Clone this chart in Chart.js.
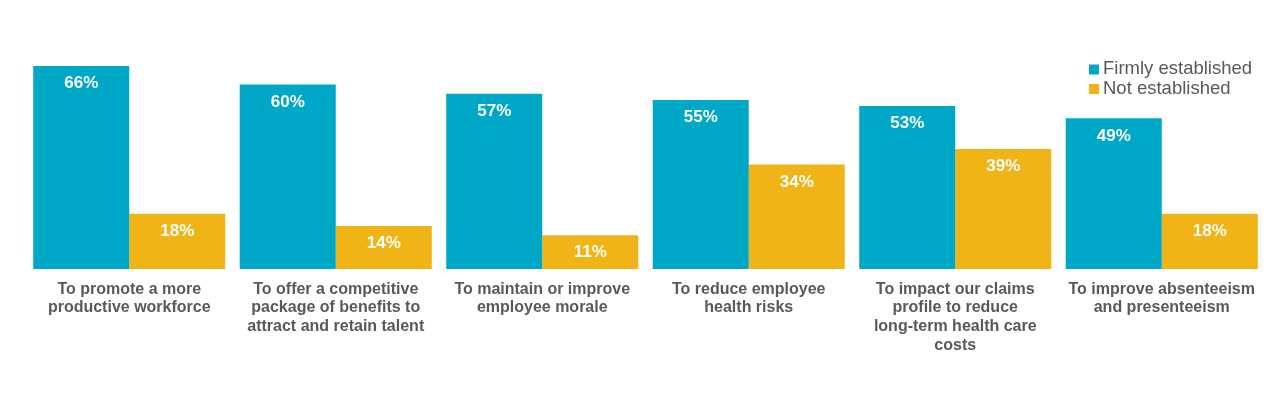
<!DOCTYPE html>
<html>
<head>
<meta charset="utf-8">
<script src="https://cdn.jsdelivr.net/npm/chart.js@4/dist/chart.umd.min.js"></script>
<style>
  html, body { margin: 0; padding: 0; background: #fff; overflow: hidden; }
  #chart { display: block; }
</style>
</head>
<body>
<canvas id="chart" width="1280" height="393"></canvas>
<script>
const categories = [
  ["To promote a more", "productive workforce"],
  ["To offer a competitive", "package of benefits to", "attract and retain talent"],
  ["To maintain or improve", "employee morale"],
  ["To reduce employee", "health risks"],
  ["To impact our claims", "profile to reduce", "long-term health care", "costs"],
  ["To improve absenteeism", "and presenteeism"]
];
const firmlyEstablished = [66, 60, 57, 55, 53, 49];
const notEstablished = [18, 14, 11, 34, 39, 18];
const seriesNames = ["Firmly established", "Not established"];

const BLUE = "#00a8c8";
const YELLOW = "#f1b416";
const GREY = "#595959";

// values written inside the top of each bar
const barLabels = {
  id: "barLabels",
  afterDatasetsDraw(chart) {
    const ctx = chart.ctx;
    ctx.save();
    ctx.font = "bold 17px 'Liberation Sans', Arial, sans-serif";
    ctx.fillStyle = "#ffffff";
    ctx.textAlign = "center";
    ctx.textBaseline = "middle";
    chart.data.datasets.forEach((ds, i) => {
      chart.getDatasetMeta(i).data.forEach((bar, j) => {
        ctx.fillText(ds.data[j] + "%", bar.x, bar.y + 17.5);
      });
    });
    ctx.restore();
  }
};

// stacked legend in the top right corner of the plot
const cornerLegend = {
  id: "cornerLegend",
  afterDraw(chart) {
    const ctx = chart.ctx;
    ctx.save();
    ctx.font = "18.5px 'Liberation Sans', Arial, sans-serif";
    ctx.textBaseline = "middle";
    chart.data.datasets.forEach((ds, i) => {
      const y = 69 + i * 19.5;
      ctx.fillStyle = ds.backgroundColor;
      ctx.fillRect(1089, y - 4.5, 10, 10);
      ctx.fillStyle = GREY;
      ctx.fillText(ds.label, 1103, y);
    });
    ctx.restore();
  }
};

new Chart(document.getElementById("chart"), {
  type: "bar",
  data: {
    labels: categories,
    datasets: [
      { label: seriesNames[0], data: firmlyEstablished, backgroundColor: BLUE },
      { label: seriesNames[1], data: notEstablished, backgroundColor: YELLOW }
    ]
  },
  options: {
    responsive: false,
    animation: false,
    devicePixelRatio: 1,
    layout: { padding: { left: 26, right: 15, top: 23, bottom: 0 } },
    datasets: {
      bar: { categoryPercentage: 0.93, barPercentage: 1.0 }
    },
    scales: {
      x: {
        grid: { display: false },
        border: { display: false },
        ticks: {
          autoSkip: false,
          maxRotation: 0,
          minRotation: 0,
          padding: 3,
          color: GREY,
          font: { family: "'Liberation Sans', Arial, sans-serif", size: 16, weight: "bold", lineHeight: 1.17 }
        },
        afterFit: (scale) => { scale.height = 124; }
      },
      y: {
        display: false,
        min: 0,
        max: 80
      }
    },
    plugins: {
      legend: { display: false },
      tooltip: { enabled: false }
    }
  },
  plugins: [barLabels, cornerLegend]
});
</script>
</body>
</html>
